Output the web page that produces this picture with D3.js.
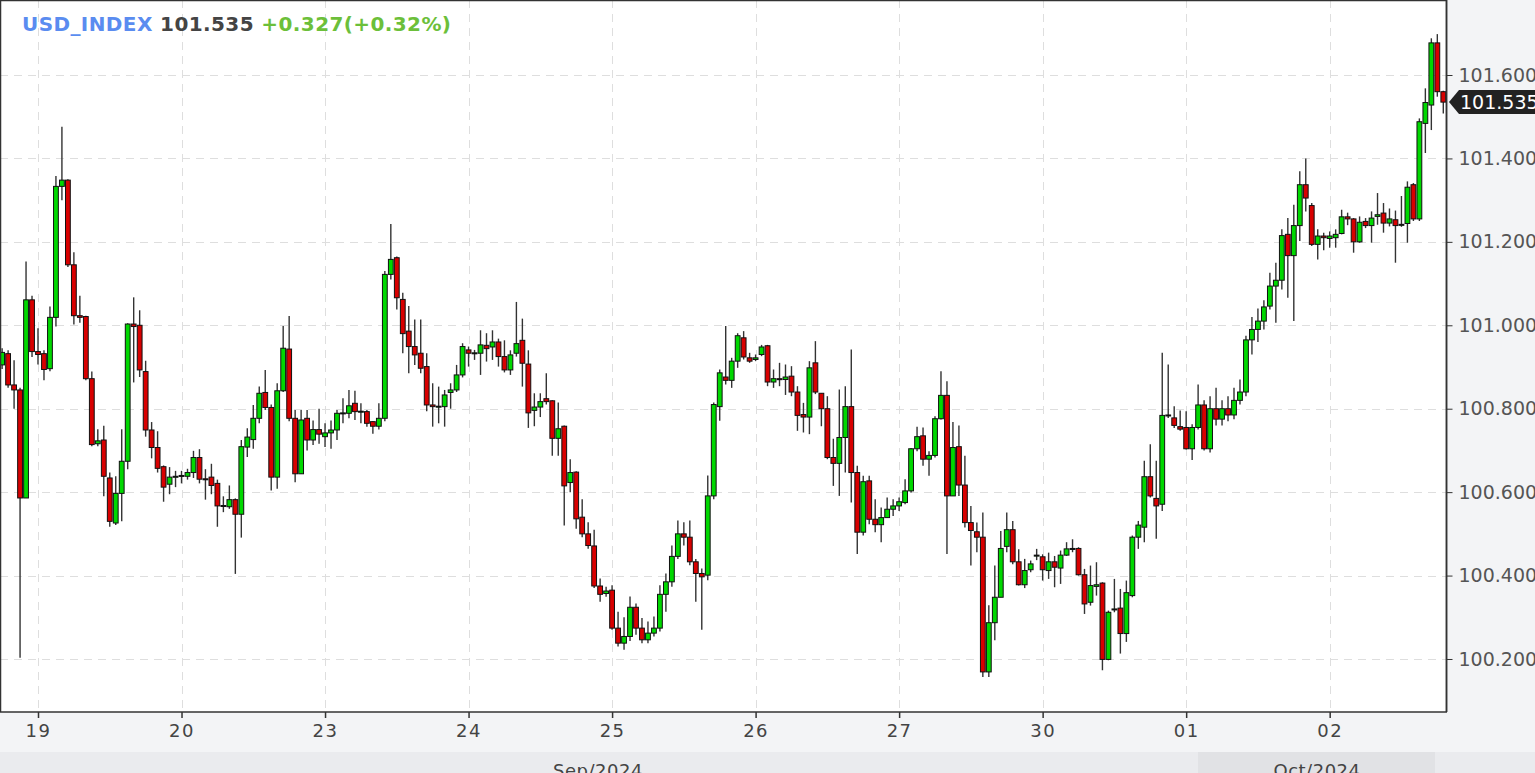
<!DOCTYPE html>
<html><head><meta charset="utf-8">
<script src="https://cdn.jsdelivr.net/npm/d3@7"></script>
<style>
html,body{margin:0;padding:0;background:#f3f4f6;}
svg{display:block;font-family:"DejaVu Sans",Verdana,sans-serif;}
</style></head>
<body>
<svg id="chart" width="1535" height="773"></svg>
<script>
// ---- data: hourly candles [open, high, low, close] ----
const sep18 = [
 [100.905,100.945,100.895,100.935],[100.932,100.940,100.850,100.857],[100.857,100.916,100.800,100.845],
 [100.845,100.850,100.203,100.586],[100.586,101.153,100.586,101.061],[101.061,101.071,100.924,100.937]];
const sep19 = [
 [100.937,100.993,100.906,100.930],[100.932,100.940,100.868,100.894],[100.896,101.045,100.890,101.019],
 [101.019,101.358,100.997,101.333],[101.333,101.476,101.300,101.348],[101.348,101.350,101.140,101.145],
 [101.145,101.175,101.002,101.023],[101.023,101.071,101.006,101.019],[101.021,101.023,100.868,100.872],
 [100.872,100.889,100.710,100.714],[100.716,100.751,100.710,100.723],[100.725,100.759,100.590,100.638],
 [100.634,100.647,100.517,100.530],[100.526,100.638,100.521,100.597],[100.597,100.751,100.530,100.674],
 [100.674,101.005,100.655,101.003],[101.003,101.067,100.863,100.997],[101.000,101.036,100.876,100.893],
 [100.889,100.915,100.733,100.749],[100.749,100.768,100.681,100.707],[100.707,100.746,100.647,100.657],
 [100.661,100.664,100.577,100.612],[100.619,100.660,100.595,100.636],[100.636,100.651,100.612,100.638]];
const sep20 = [
 [100.640,100.651,100.621,100.638],[100.638,100.656,100.630,100.647],[100.647,100.699,100.634,100.683],
 [100.683,100.703,100.621,100.631],[100.632,100.655,100.582,100.630],[100.636,100.668,100.595,100.616],
 [100.621,100.630,100.517,100.567],[100.566,100.590,100.552,100.568],[100.565,100.616,100.560,100.582],
 [100.582,100.585,100.404,100.547],[100.547,100.725,100.491,100.709],[100.708,100.753,100.684,100.732],
 [100.726,100.809,100.704,100.777],[100.777,100.853,100.765,100.837],[100.839,100.893,100.797,100.803],
 [100.803,100.810,100.604,100.636],[100.636,100.861,100.608,100.843],[100.843,100.998,100.840,100.945],
 [100.943,101.022,100.770,100.777],[100.777,100.797,100.624,100.644],[100.644,100.797,100.644,100.773],
 [100.777,100.797,100.700,100.725],[100.725,100.772,100.713,100.750],[100.750,100.800,100.716,100.739]];
const sep23 = [
 [100.733,100.765,100.708,100.742],[100.742,100.772,100.704,100.749],[100.749,100.797,100.725,100.789],
 [100.789,100.825,100.765,100.790],[100.789,100.845,100.777,100.807],[100.813,100.843,100.773,100.793],
 [100.793,100.813,100.765,100.794],[100.793,100.797,100.757,100.765],[100.769,100.770,100.740,100.758],
 [100.758,100.813,100.750,100.777],[100.777,101.130,100.770,101.122],[101.122,101.243,101.110,101.158],
 [101.162,101.165,101.038,101.066],[101.062,101.078,100.933,100.980],[100.986,101.046,100.885,100.949],
 [100.949,101.014,100.905,100.929],[100.933,101.014,100.885,100.897],[100.901,100.933,100.794,100.809],
 [100.809,100.861,100.757,100.805],[100.805,100.853,100.765,100.806],[100.805,100.845,100.757,100.833],
 [100.839,100.861,100.800,100.845],[100.845,100.905,100.840,100.881],[100.881,100.957,100.875,100.949]];
const sep24 = [
 [100.941,100.949,100.901,100.933],[100.933,100.941,100.917,100.934],[100.933,100.988,100.881,100.953],
 [100.952,100.981,100.913,100.944],[100.948,100.988,100.917,100.960],[100.960,100.968,100.901,100.925],
 [100.925,100.964,100.887,100.893],[100.893,100.940,100.881,100.929],[100.933,101.056,100.925,100.956],
 [100.964,101.016,100.853,100.909],[100.907,100.940,100.754,100.790],[100.796,100.837,100.758,100.804],
 [100.804,100.837,100.780,100.817],[100.824,100.885,100.810,100.817],[100.819,100.820,100.687,100.729],
 [100.729,100.815,100.687,100.752],[100.758,100.760,100.520,100.615],[100.623,100.679,100.600,100.647],
 [100.648,100.650,100.512,100.536],[100.540,100.583,100.492,100.500],[100.500,100.528,100.464,100.472],
 [100.471,100.510,100.370,100.375],[100.375,100.393,100.337,100.355],[100.357,100.373,100.349,100.363]];
const sep25 = [
 [100.365,100.377,100.270,100.274],[100.274,100.313,100.230,100.238],[100.238,100.300,100.222,100.254],
 [100.254,100.350,100.243,100.324],[100.324,100.333,100.258,100.274],[100.274,100.298,100.238,100.246],
 [100.246,100.290,100.238,100.262],[100.262,100.302,100.254,100.274],[100.274,100.377,100.266,100.355],
 [100.355,100.405,100.313,100.385],[100.385,100.472,100.373,100.446],[100.446,100.532,100.440,100.500],
 [100.500,100.528,100.472,100.492],[100.492,100.532,100.425,100.433],[100.433,100.440,100.337,100.405],
 [100.405,100.417,100.270,100.397],[100.401,100.640,100.389,100.591],[100.591,100.815,100.583,100.810],
 [100.805,100.894,100.771,100.886],[100.876,100.998,100.858,100.868],[100.868,100.922,100.850,100.914],
 [100.914,100.981,100.898,100.975],[100.970,100.986,100.918,100.924],[100.922,100.934,100.910,100.914]];
const sep26 = [
 [100.918,100.930,100.914,100.922],[100.930,100.953,100.926,100.948],[100.951,100.953,100.854,100.864],
 [100.864,100.894,100.850,100.872],[100.872,100.910,100.854,100.871],[100.870,100.906,100.833,100.876],
 [100.878,100.902,100.830,100.840],[100.840,100.854,100.747,100.784],[100.786,100.814,100.743,100.780],
 [100.780,100.914,100.739,100.898],[100.910,100.962,100.835,100.840],[100.837,100.837,100.758,100.800],
 [100.800,100.830,100.679,100.683],[100.683,100.728,100.615,100.669],[100.669,100.846,100.591,100.731],
 [100.731,100.854,100.647,100.805],[100.805,100.942,100.575,100.647],[100.647,100.663,100.452,100.504],
 [100.504,100.639,100.496,100.625],[100.627,100.639,100.523,100.535],[100.535,100.583,100.504,100.522],
 [100.522,100.563,100.480,100.539],[100.539,100.587,100.539,100.559],[100.559,100.583,100.543,100.567]];
const sep27 = [
 [100.567,100.587,100.555,100.577],[100.575,100.631,100.571,100.603],[100.603,100.706,100.599,100.704],
 [100.704,100.757,100.698,100.733],[100.735,100.755,100.663,100.679],[100.679,100.698,100.639,100.688],
 [100.688,100.782,100.683,100.776],[100.776,100.890,100.774,100.832],[100.832,100.866,100.452,100.591],
 [100.591,100.768,100.591,100.707],[100.709,100.760,100.591,100.617],[100.617,100.687,100.515,100.527],
 [100.527,100.567,100.424,100.508],[100.505,100.527,100.456,100.492],[100.492,100.551,100.157,100.169],
 [100.169,100.329,100.157,100.287],[100.287,100.424,100.245,100.348],[100.348,100.507,100.348,100.465],
 [100.470,100.551,100.456,100.510],[100.510,100.531,100.427,100.433],[100.433,100.463,100.376,100.378],
 [100.378,100.440,100.370,100.412],[100.414,100.436,100.408,100.428],[100.447,100.464,100.437,100.449]];
const sep30 = [
 [100.445,100.451,100.388,100.414],[100.412,100.455,100.392,100.433],[100.433,100.447,100.372,100.420],
 [100.418,100.460,100.380,100.449],[100.449,100.480,100.447,100.464],[100.464,100.487,100.456,100.465],
 [100.465,100.468,100.400,100.402],[100.402,100.416,100.308,100.332],[100.336,100.424,100.328,100.376],
 [100.374,100.432,100.352,100.378],[100.382,100.384,100.173,100.199],[100.199,100.316,100.197,100.312],
 [100.319,100.392,100.312,100.320],[100.322,100.368,100.213,100.261],[100.261,100.388,100.241,100.359],
 [100.352,100.496,100.348,100.492],[100.492,100.531,100.464,100.521],[100.516,100.675,100.480,100.637],
 [100.637,100.715,100.587,100.591],[100.585,100.675,100.488,100.567],[100.571,100.934,100.555,100.784],
 [100.784,100.906,100.778,100.785],[100.778,100.806,100.754,100.760],[100.757,100.796,100.747,100.751]];
const oct01 = [
 [100.755,100.794,100.702,100.704],[100.704,100.763,100.677,100.755],[100.755,100.858,100.750,100.809],
 [100.809,100.820,100.700,100.704],[100.704,100.830,100.695,100.800],[100.800,100.850,100.760,100.775],
 [100.775,100.820,100.760,100.800],[100.800,100.830,100.770,100.785],[100.785,100.850,100.775,100.820],
 [100.820,100.870,100.810,100.840],[100.840,100.975,100.830,100.965],[100.965,101.020,100.930,100.990],
 [100.990,101.040,100.960,101.010],[101.010,101.060,100.990,101.044],[101.046,101.126,101.038,101.094],
 [101.094,101.150,101.006,101.108],[101.108,101.230,101.086,101.215],[101.218,101.257,101.066,101.167],
 [101.167,101.289,101.010,101.239],[101.239,101.369,101.202,101.337],[101.337,101.400,101.273,101.305],
 [101.287,101.293,101.190,101.194],[101.194,101.230,101.158,101.214],[101.214,101.222,101.180,101.210]];
const oct02 = [
 [101.208,101.225,101.186,101.214],[101.210,101.230,101.186,101.218],[101.220,101.277,101.218,101.260],
 [101.260,101.270,101.240,101.255],[101.255,101.257,101.174,101.200],[101.200,101.261,101.198,101.247],
 [101.249,101.257,101.233,101.239],[101.239,101.273,101.198,101.257],[101.261,101.317,101.241,101.265],
 [101.269,101.293,101.222,101.245],[101.245,101.280,101.237,101.255],[101.253,101.275,101.150,101.239],
 [101.240,101.310,101.236,101.242],[101.244,101.345,101.198,101.331],[101.337,101.341,101.250,101.255],
 [101.255,101.496,101.250,101.488],[101.484,101.568,101.413,101.534],[101.528,101.688,101.468,101.677],
 [101.677,101.698,101.548,101.560],[101.560,101.562,101.508,101.535]];

const dayLabels = ["19","20","23","24","25","26","27","30","01","02"];
const dayData   = [sep19, sep20, sep23, sep24, sep25, sep26, sep27, sep30, oct01, oct02];
const yTicks = [100.2, 100.4, 100.6, 100.8, 101.0, 101.2, 101.4, 101.6];
const monthLabels = ["Sep/2024", "Oct/2024"];
const symbol = "USD_INDEX";
const lastPrice = 101.535, change = 0.327, changePct = 0.32;

// ---- build candle list ----
const candles = [];
sep18.forEach(d => candles.push(d));
const dayStart = [];
dayData.forEach(arr => { dayStart.push(candles.length); arr.forEach(d => candles.push(d)); });
const data = candles.map((d, i) => ({i, o: d[0], h: d[1], l: d[2], c: d[3]}));

// ---- layout ----
const W = 1535, H = 773;
const plotR = 1447, plotB = 712;
const step = 5.98;
const x0 = 38 - dayStart[0] * step;
const svg = d3.select("#chart");

const x = d3.scaleLinear().domain([0, data.length - 1]).range([x0, x0 + (data.length - 1) * step]);
const y = d3.scaleLinear().domain([101.6 - 637 / 417.14, 101.6 + 75 / 417.14]).range([plotB, 0]);

// backgrounds
svg.append("rect").attr("x", 0).attr("y", 0).attr("width", W).attr("height", H).attr("fill", "#f3f4f6");
svg.append("rect").attr("x", 0).attr("y", 752).attr("width", W).attr("height", H - 752).attr("fill", "#eaebee");
svg.append("rect").attr("x", 1198).attr("y", 752).attr("width", 237).attr("height", H - 752).attr("fill", "#e1e2e5");
svg.append("rect").attr("x", 0).attr("y", 0).attr("width", plotR).attr("height", plotB).attr("fill", "#fff");

// gridlines
const grid = svg.append("g").attr("stroke", "#dedede").attr("stroke-width", 1).attr("stroke-dasharray", "8,6");
grid.selectAll("line.h").data(yTicks).join("line")
  .attr("x1", 0).attr("x2", plotR).attr("y1", d => Math.round(y(d)) + 0.5).attr("y2", d => Math.round(y(d)) + 0.5);
grid.selectAll("line.v").data(dayStart).join("line")
  .attr("y1", 0).attr("y2", plotB).attr("x1", d => Math.round(x(d)) + 0.5).attr("x2", d => Math.round(x(d)) + 0.5);

// candles
const cg = svg.append("g");
cg.selectAll("line.wick").data(data).join("line")
  .attr("x1", d => x(d.i)).attr("x2", d => x(d.i))
  .attr("y1", d => y(d.h)).attr("y2", d => y(d.l))
  .attr("stroke", "#333").attr("stroke-width", 1.4);
cg.selectAll("rect.body").data(data).join("rect")
  .attr("x", d => x(d.i) - 2.4).attr("width", 4.8)
  .attr("y", d => y(Math.max(d.o, d.c)))
  .attr("height", d => Math.max(1, Math.abs(y(d.o) - y(d.c))))
  .attr("fill", d => d.c >= d.o ? "#00d800" : "#d80000")
  .attr("stroke", "#111").attr("stroke-width", 1);

// frame
svg.append("path").attr("d", `M0.5,${plotB}V0.5H${plotR - 0.5}V${plotB}`).attr("fill", "none").attr("stroke", "#333").attr("stroke-width", 1.5);

// y axis (right)
const yAxis = d3.axisRight(y).tickValues(yTicks).tickFormat(d3.format(".3f")).tickSize(6).tickPadding(6);
const ya = svg.append("g").attr("transform", `translate(${plotR - 0.5},0)`).call(yAxis);
ya.select(".domain").attr("stroke", "#333").attr("stroke-width", 1.5).attr("d", `M0,0V${plotB}`);
ya.selectAll(".tick line").attr("stroke", "#333");
ya.selectAll(".tick text").attr("fill", "#555").attr("font-size", 19).attr("font-family", "DejaVu Sans");

// x axis
const xAxis = d3.axisBottom(x).tickValues(dayStart).tickFormat((d, k) => dayLabels[k]).tickSize(6).tickPadding(6);
const xa = svg.append("g").attr("transform", `translate(0,${plotB})`).call(xAxis);
xa.select(".domain").attr("stroke", "#333").attr("stroke-width", 1.5).attr("d", `M0,0H${plotR}`);
xa.selectAll(".tick line").attr("stroke", "#333").attr("stroke-width", 1.5);
xa.selectAll(".tick text").attr("fill", "#444").attr("font-size", 18).attr("font-family", "DejaVu Sans").attr("letter-spacing", 1.5);

// month labels (clipped by the page bottom, as in the original)
svg.append("text").attr("x", 598).attr("y", 777).attr("text-anchor", "middle")
  .attr("font-size", 18).attr("fill", "#444").attr("letter-spacing", 0.5).text(monthLabels[0]);
svg.append("text").attr("x", 1317).attr("y", 777).attr("text-anchor", "middle")
  .attr("font-size", 18).attr("fill", "#444").attr("letter-spacing", 0.5).text(monthLabels[1]);

// last price tag
const py = y(lastPrice);
svg.append("path")
  .attr("d", `M${plotR + 2},${py} L${plotR + 12},${py - 12} H${W} V${py + 12} H${plotR + 12} Z`)
  .attr("fill", "#222");
svg.append("text").attr("x", plotR + 13).attr("y", py).attr("dy", "0.36em")
  .attr("font-size", 19).attr("fill", "#fff").text(lastPrice.toFixed(3));

// title
const t = svg.append("text").attr("x", 22).attr("y", 31).attr("font-size", 20).attr("font-weight", "bold").attr("letter-spacing", 0.4);
t.append("tspan").attr("fill", "#5a8cf0").text(symbol + " ");
t.append("tspan").attr("fill", "#444").text(lastPrice.toFixed(3) + " ");
t.append("tspan").attr("fill", "#6cbf3a").text(`+${change.toFixed(3)}(+${changePct.toFixed(2)}%)`);
</script>
</body></html>
